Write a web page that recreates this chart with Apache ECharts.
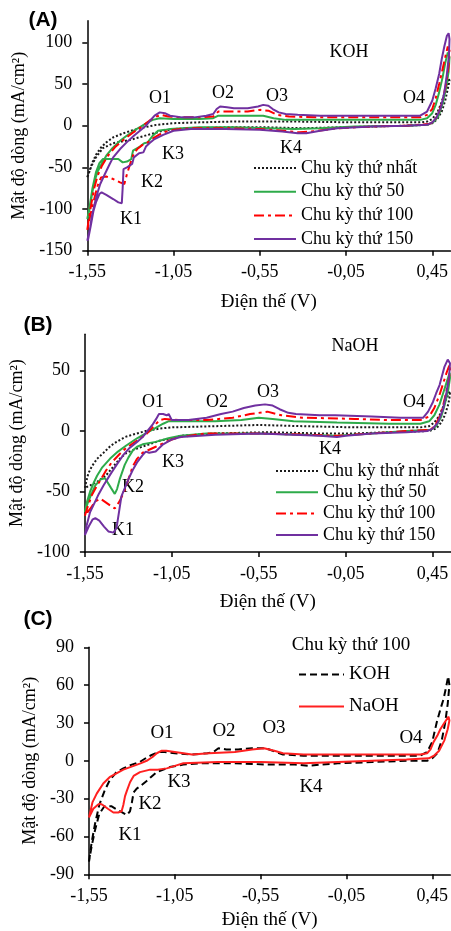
<!DOCTYPE html>
<html>
<head>
<meta charset="utf-8">
<script src="https://cdn.jsdelivr.net/npm/echarts@6/dist/echarts.min.js"></script>
<style>html,body{margin:0;padding:0;background:#fff}#c{width:451px;height:931px}</style>
</head>
<body>
<div id="c"></div>
<script>
// ---------- DATA ----------
const xTicks = [-1.55, -1.05, -0.55, -0.05, 0.45];
const yTicksA = [-150, -100, -50, 0, 50, 100];
const yTicksB = [-100, -50, 0, 50];
const yTicksC = [-90, -60, -30, 0, 30, 60, 90];
const seriesNamesAB = ['Chu kỳ thứ nhất', 'Chu kỳ thứ 50', 'Chu kỳ thứ 100', 'Chu kỳ thứ 150'];
const seriesNamesC = ['KOH', 'NaOH'];

// Panel A (KOH): closed CV loops [E (V), j (mA/cm2)]
const A_cycle1 = [[-1.55,-62],[-1.545,-58],[-1.52,-44],[-1.50,-35],[-1.47,-26],[-1.44,-20],[-1.40,-14],[-1.34,-9],[-1.28,-5],[-1.22,-2],[-1.15,1],[-1.05,3],[-0.9,4],[-0.7,5],[-0.55,5],[-0.35,5],[0,4],[0.2,4],[0.38,4],[0.42,5],[0.45,8],[0.48,16],[0.50,26],[0.52,38],[0.535,48],[0.545,57],
  [0.55,54],[0.54,44],[0.525,30],[0.505,17],[0.48,8],[0.45,3],[0.42,1],[0.3,0],[0.1,-1],[-0.1,-2],[-0.3,-3],[-0.5,-2],[-0.75,-2],[-0.95,-3],[-1.05,-4],[-1.11,-6],[-1.18,-10],[-1.25,-14],[-1.30,-17],[-1.35,-19],[-1.40,-21],[-1.46,-27],[-1.50,-38],[-1.525,-48],[-1.55,-62]];
const A_cycle50 = [[-1.55,-112],[-1.537,-100],[-1.525,-85],[-1.51,-68],[-1.49,-55],[-1.467,-46],[-1.44,-36],[-1.409,-28],[-1.36,-18],[-1.322,-12],[-1.28,-6],[-1.24,-1],[-1.20,4],[-1.17,7],[-1.13,9],[-1.05,8],[-0.9,8],[-0.82,9],[-0.79,12],[-0.7,12],[-0.6,12],[-0.53,12],[-0.47,9],[-0.4,7],[-0.2,7],[0,7],[0.2,7],[0.38,7],[0.42,9],[0.45,15],[0.47,25],[0.49,40],[0.51,58],[0.525,75],[0.54,88],
  [0.55,82],[0.545,65],[0.53,45],[0.51,26],[0.485,11],[0.455,4],[0.42,1],[0.3,0],[0,-1],[-0.2,-3],[-0.35,-4],[-0.5,-3],[-0.7,-2],[-0.9,-2],[-1.0,-3],[-1.07,-4],[-1.10,-5],[-1.14,-6],[-1.17,-12],[-1.20,-20],[-1.22,-21],[-1.245,-25],[-1.27,-28],[-1.285,-30],[-1.295,-40],[-1.32,-43],[-1.345,-44],[-1.37,-40],[-1.42,-40],[-1.46,-40],[-1.48,-45],[-1.50,-56],[-1.52,-75],[-1.535,-95],[-1.55,-112]];
const A_cycle100 = [[-1.55,-125],[-1.54,-110],[-1.525,-92],[-1.51,-75],[-1.49,-60],[-1.465,-48],[-1.43,-36],[-1.39,-26],[-1.34,-17],[-1.29,-9],[-1.24,-2],[-1.19,6],[-1.15,11],[-1.12,13],[-1.08,11],[-1.0,10],[-0.9,10],[-0.82,11],[-0.79,17],[-0.72,17],[-0.62,17],[-0.55,19],[-0.5,18],[-0.45,13],[-0.38,11],[-0.2,10],[0,10],[0.2,10],[0.38,10],[0.42,13],[0.45,20],[0.47,33],[0.49,50],[0.51,68],[0.525,82],[0.54,95],
  [0.55,90],[0.545,72],[0.53,50],[0.51,30],[0.485,14],[0.46,5],[0.43,2],[0.3,0],[0.1,-1],[-0.1,-3],[-0.25,-7],[-0.32,-8],[-0.42,-6],[-0.55,-4],[-0.75,-3],[-0.95,-3],[-1.05,-5],[-1.11,-8],[-1.16,-14],[-1.20,-20],[-1.23,-23],[-1.26,-28],[-1.28,-33],[-1.30,-45],[-1.32,-58],[-1.335,-70],[-1.36,-68],[-1.40,-64],[-1.44,-61],[-1.47,-62],[-1.49,-72],[-1.51,-88],[-1.53,-105],[-1.55,-125]];
const A_cycle150 = [[-1.55,-138],[-1.545,-133],[-1.535,-125],[-1.525,-110],[-1.51,-96],[-1.496,-84],[-1.475,-70],[-1.448,-58],[-1.42,-46],[-1.40,-38],[-1.36,-28],[-1.322,-20],[-1.28,-12],[-1.245,-6],[-1.21,0],[-1.19,5],[-1.16,12],[-1.13,16],[-1.10,15],[-1.07,12],[-1.0,10],[-0.93,10],[-0.86,12],[-0.82,14],[-0.80,20],[-0.78,23],[-0.74,22],[-0.7,21],[-0.62,21],[-0.56,23],[-0.53,25],[-0.50,24],[-0.475,20],[-0.44,16],[-0.40,14],[-0.33,13],[-0.2,12],[0,12],[0.2,12],[0.38,12],[0.42,17],[0.45,30],[0.47,45],[0.49,62],[0.505,80],[0.52,95],[0.535,108],[0.545,111],
  [0.55,104],[0.547,85],[0.535,62],[0.52,40],[0.50,22],[0.475,10],[0.45,4],[0.42,1],[0.3,0],[0.1,-1],[-0.1,-3],[-0.2,-6],[-0.28,-9],[-0.33,-9],[-0.42,-7],[-0.55,-5],[-0.75,-4],[-0.95,-4],[-1.05,-6],[-1.11,-11],[-1.16,-16],[-1.19,-21],[-1.21,-25],[-1.225,-32],[-1.25,-33],[-1.28,-38],[-1.29,-46],[-1.32,-50],[-1.34,-52],[-1.345,-75],[-1.35,-93],[-1.37,-92],[-1.40,-88],[-1.44,-83],[-1.467,-80],[-1.48,-82],[-1.50,-92],[-1.515,-103],[-1.53,-120],[-1.545,-136],[-1.55,-138]];

// Panel B (NaOH)
const B_cycle1 = [[-1.55,-47],[-1.546,-44],[-1.53,-35],[-1.509,-29],[-1.48,-23],[-1.443,-18],[-1.40,-12],[-1.368,-9],[-1.32,-5],[-1.274,-3],[-1.2,0],[-1.12,2],[-1.05,3],[-0.8,4],[-0.55,5],[-0.3,4],[0,3],[0.2,3],[0.38,3],[0.43,4],[0.46,7],[0.49,13],[0.51,20],[0.53,27],[0.548,33],
  [0.55,30],[0.54,22],[0.52,13],[0.50,7],[0.47,2],[0.43,0],[0.2,-1],[0,-2],[-0.2,-2],[-0.5,-1],[-0.8,-2],[-1.0,-4],[-1.05,-6],[-1.12,-8],[-1.2,-12],[-1.26,-15],[-1.31,-18],[-1.35,-23],[-1.39,-30],[-1.43,-37],[-1.48,-42],[-1.52,-45],[-1.55,-47]];
const B_cycle50 = [[-1.55,-67],[-1.537,-58],[-1.52,-50],[-1.50,-43],[-1.48,-37],[-1.45,-30],[-1.406,-23],[-1.36,-17],[-1.312,-12],[-1.25,-6],[-1.2,-2],[-1.15,2],[-1.10,6],[-1.07,8],[-1.0,8],[-0.8,8],[-0.65,9],[-0.55,11],[-0.47,10],[-0.35,8],[-0.1,7],[0.2,6],[0.38,6],[0.43,8],[0.46,13],[0.49,22],[0.51,31],[0.53,40],[0.548,48],
  [0.55,44],[0.54,34],[0.52,22],[0.50,12],[0.47,4],[0.44,1],[0.3,0],[0.1,-2],[-0.1,-4],[-0.3,-3],[-0.55,-2],[-0.85,-2],[-1.0,-4],[-1.07,-6],[-1.143,-9],[-1.218,-11],[-1.25,-13],[-1.274,-16],[-1.30,-22],[-1.321,-28],[-1.35,-40],[-1.365,-48],[-1.378,-52],[-1.40,-47],[-1.434,-39],[-1.46,-40],[-1.49,-45],[-1.515,-53],[-1.535,-60],[-1.55,-67]];
const B_cycle100 = [[-1.55,-70],[-1.537,-64],[-1.51,-53],[-1.48,-45],[-1.462,-41],[-1.43,-33],[-1.396,-26],[-1.35,-19],[-1.312,-14],[-1.25,-8],[-1.2,-3],[-1.16,3],[-1.12,9],[-1.09,10],[-1.0,9],[-0.85,9],[-0.7,11],[-0.6,14],[-0.5,16],[-0.42,13],[-0.3,11],[0,10],[0.2,9],[0.38,9],[0.43,12],[0.46,19],[0.49,30],[0.51,39],[0.53,48],[0.548,55],
  [0.55,50],[0.54,40],[0.52,27],[0.50,15],[0.47,6],[0.44,1],[0.3,0],[0.1,-2],[-0.1,-4],[-0.3,-3],[-0.55,-2],[-0.85,-2],[-1.0,-5],[-1.05,-7],[-1.143,-13],[-1.218,-18],[-1.25,-23],[-1.274,-29],[-1.30,-40],[-1.321,-49],[-1.35,-58],[-1.378,-64],[-1.40,-62],[-1.43,-59],[-1.46,-56],[-1.49,-58],[-1.518,-64],[-1.55,-70]];
const B_cycle150 = [[-1.55,-86],[-1.54,-78],[-1.52,-67],[-1.50,-61],[-1.47,-52],[-1.443,-45],[-1.40,-35],[-1.368,-28],[-1.33,-20],[-1.293,-14],[-1.25,-9],[-1.218,-5],[-1.19,0],[-1.162,5],[-1.14,10],[-1.124,14],[-1.10,14],[-1.08,13],[-1.068,14],[-1.05,9],[-1.0,9],[-0.955,9],[-0.85,11],[-0.767,14],[-0.7,16],[-0.636,19],[-0.57,21],[-0.514,22],[-0.47,21],[-0.43,18],[-0.38,15],[-0.336,14],[-0.2,13],[-0.11,13],[0.1,12],[0.265,11],[0.396,11],[0.424,16],[0.452,24],[0.47,31],[0.49,38],[0.505,46],[0.518,53],[0.537,59],[0.545,60],
  [0.55,56],[0.545,45],[0.53,32],[0.51,18],[0.48,7],[0.45,2],[0.42,0],[0.3,-1],[0.1,-2],[-0.05,-4],[-0.1,-5],[-0.2,-4],[-0.35,-3],[-0.55,-2],[-0.8,-3],[-1.0,-5],[-1.05,-7],[-1.10,-11],[-1.143,-17],[-1.18,-18],[-1.20,-17],[-1.218,-20],[-1.25,-26],[-1.274,-32],[-1.30,-40],[-1.32,-47],[-1.34,-54],[-1.355,-68],[-1.368,-80],[-1.385,-84],[-1.415,-83],[-1.44,-79],[-1.467,-74],[-1.49,-72],[-1.505,-73],[-1.525,-78],[-1.55,-86]];

// Panel C (cycle 100, KOH vs NaOH)
const C_KOH = [[-1.55,-80],[-1.535,-65],[-1.515,-50],[-1.49,-35],[-1.46,-24],[-1.428,-15],[-1.39,-9],[-1.35,-6],[-1.30,-3],[-1.255,-1],[-1.22,2],[-1.194,4],[-1.146,7],[-1.11,7],[-1.05,6],[-0.95,5],[-0.86,6],[-0.825,7],[-0.796,10],[-0.75,9],[-0.68,9],[-0.6,10],[-0.53,10],[-0.5,9],[-0.46,7],[-0.42,5],[-0.3,4],[0,4],[0.2,4],[0.38,4],[0.42,7],[0.45,15],[0.477,31],[0.5,42],[0.516,49],[0.53,58],[0.543,67],
  [0.55,60],[0.54,45],[0.525,30],[0.505,16],[0.48,6],[0.45,2],[0.42,0],[0.3,0],[0.1,-1],[-0.1,-2],[-0.2,-3],[-0.27,-4],[-0.35,-3],[-0.5,-3],[-0.7,-2],[-0.9,-2],[-1.0,-3],[-1.08,-5],[-1.155,-9],[-1.19,-13],[-1.214,-16],[-1.25,-20],[-1.272,-22],[-1.29,-25],[-1.30,-33],[-1.311,-40],[-1.33,-43],[-1.37,-40],[-1.42,-36],[-1.46,-36],[-1.49,-42],[-1.515,-55],[-1.535,-68],[-1.55,-80]];
const C_NaOH = [[-1.55,-45],[-1.53,-33],[-1.505,-26],[-1.467,-18],[-1.43,-13],[-1.39,-10],[-1.35,-7],[-1.31,-5],[-1.25,-2],[-1.214,0],[-1.18,3],[-1.155,6],[-1.126,8],[-1.10,8],[-1.05,7],[-1.0,6],[-0.95,5],[-0.85,6],[-0.7,7],[-0.6,9],[-0.53,10],[-0.47,8],[-0.42,6],[-0.3,5],[0,5],[0.2,5],[0.38,5],[0.42,6],[0.44,9],[0.458,15],[0.48,20],[0.497,25],[0.52,30],[0.545,35],
  [0.55,32],[0.54,25],[0.52,16],[0.49,8],[0.46,4],[0.43,2],[0.3,1],[0.1,0],[-0.1,-1],[-0.3,-2],[-0.55,-1],[-0.8,-1],[-1.0,-2],[-1.05,-4],[-1.097,-6],[-1.15,-7],[-1.194,-7],[-1.253,-9],[-1.29,-12],[-1.311,-17],[-1.33,-24],[-1.34,-28],[-1.35,-35],[-1.36,-40],[-1.38,-41],[-1.408,-41],[-1.44,-38],[-1.47,-35],[-1.486,-34],[-1.50,-35],[-1.525,-38],[-1.55,-45]];

// Peak annotations (text, pixel x, pixel y)
const labelsA = [['O1',160,98],['O2',223,93],['O3',277,96],['O4',414,98],['K1',131,219],['K2',152,182],['K3',173,154],['K4',291,148],['KOH',349,52]];
const labelsB = [['O1',153,402],['O2',217,402],['O3',268,392],['O4',414,402],['K1',123,530],['K2',133,487],['K3',173,462],['K4',330,449],['NaOH',355,346]];
const labelsC = [['O1',162,733],['O2',224,731],['O3',274,728],['O4',411,738],['K1',130,835],['K2',150,804],['K3',179,782],['K4',311,787],['Chu kỳ thứ 100',351,645]];

// ---------- CHART ----------
const SERIF = "'Liberation Serif','Times New Roman',serif";
const chart = echarts.init(document.getElementById('c'), null, {renderer: 'canvas'});

function xAx(gi, gap) {
  return {
    type: 'value', gridIndex: gi, min: -1.55, max: 0.555,
    name: 'Điện thế (V)', nameLocation: 'middle', nameGap: gap,
    nameTextStyle: {fontFamily: SERIF, fontSize: 19, color: '#000'},
    axisLine: {show: true, onZero: false, lineStyle: {color: '#000', width: 1.5}},
    axisTick: {show: true, length: 5, customValues: xTicks, lineStyle: {color: '#000', width: 1.5}},
    axisLabel: {customValues: xTicks, margin: 13, fontFamily: SERIF, fontSize: 18, color: '#000',
      formatter: v => v.toFixed(2).replace('.', ',')},
    splitLine: {show: false}
  };
}
function yAx(gi, min, max, ticks, gap) {
  return {
    type: 'value', gridIndex: gi, min: min, max: max,
    name: 'Mật độ dòng (mA/cm²)', nameLocation: 'middle', nameGap: gap, nameRotate: 90,
    nameTextStyle: {fontFamily: SERIF, fontSize: 18, color: '#000'},
    axisLine: {show: true, onZero: false, lineStyle: {color: '#000', width: 1.5}},
    axisTick: {show: true, length: 5, customValues: ticks, lineStyle: {color: '#000', width: 1.5}},
    axisLabel: {customValues: ticks, margin: 15, fontFamily: SERIF, fontSize: 18, color: '#000'},
    splitLine: {show: false}
  };
}

const styles = [
  {color: '#1a1a1a', type: 'dotted', width: 2},
  {color: '#2eab4a', type: 'solid', width: 2},
  {color: '#ff0000', type: [10, 4, 3, 4], width: 2},
  {color: '#7030a0', type: 'solid', width: 2}
];
function mk(name, data, gi, st) {
  return {
    name: name, type: 'line', data: data, xAxisIndex: gi, yAxisIndex: gi,
    symbol: 'none', showSymbol: false, smooth: false, clip: true,
    lineStyle: {color: st.color, type: st.type, width: st.width},
    itemStyle: {color: st.color}, animation: false
  };
}
const seriesA = [A_cycle1, A_cycle50, A_cycle100, A_cycle150].map((d, i) => mk(seriesNamesAB[i], d, 0, styles[i]));
const seriesB = [B_cycle1, B_cycle50, B_cycle100, B_cycle150].map((d, i) => mk(seriesNamesAB[i], d, 1, styles[i]));
const seriesC = [
  mk(seriesNamesC[0], C_KOH, 2, {color: '#000', type: [7, 4], width: 2}),
  mk(seriesNamesC[1], C_NaOH, 2, {color: '#ff2020', type: 'solid', width: 2})
];

function txt(arr, size) {
  return arr.map(a => ({
    type: 'text', x: a[1], y: a[2], silent: true,
    style: {text: a[0], fill: '#000', font: size + 'px ' + SERIF, textAlign: 'center', textVerticalAlign: 'middle'}
  }));
}
const panelLetters = [['(A)',43,20],['(B)',38,325],['(C)',38,619]].map(a => ({
  type: 'text', x: a[1], y: a[2], silent: true,
  style: {text: a[0], fill: '#000', font: 'bold 21px "Liberation Sans", Arial, sans-serif', textAlign: 'center', textVerticalAlign: 'middle'}
}));

function legend(names, left, top, gap, size, w) {
  return {
    orient: 'vertical', left: left, top: top, itemGap: gap, itemWidth: w, itemHeight: 12,
    data: names, padding: 0,
    itemStyle: {opacity: 0, borderWidth: 0},
    textStyle: {fontFamily: SERIF, fontSize: size, color: '#000'},
    selectedMode: false
  };
}

chart.setOption({
  animation: false,
  backgroundColor: '#fff',
  grid: [
    {left: 87.3, right: 0, top: 20.7, bottom: 931 - 250.7, containLabel: false},
    {left: 77.7, right: 0, top: 334.2, bottom: 931 - 552, containLabel: false},
    {left: 89, right: 0, top: 647.3, bottom: 931 - 874.3, containLabel: false}
  ],
  xAxis: [xAx(0, 42), xAx(1, 41), xAx(2, 36)],
  yAxis: [yAx(0, -150, 126, yTicksA, 57), yAx(1, -100, 80, yTicksB, 50), yAx(2, -90, 90, yTicksC, 46)],
  legend: [
    legend(seriesNamesAB, 253, 159, 5.7, 18, 42),
    legend(seriesNamesAB, 275, 462, 3.3, 18, 42),
    legend(seriesNamesC, 298, 665, 13, 19, 45)
  ],
  series: seriesA.concat(seriesB, seriesC),
  graphic: panelLetters.concat(txt(labelsA, 18), txt(labelsB, 18), txt(labelsC, 19))
});
</script>
</body>
</html>
